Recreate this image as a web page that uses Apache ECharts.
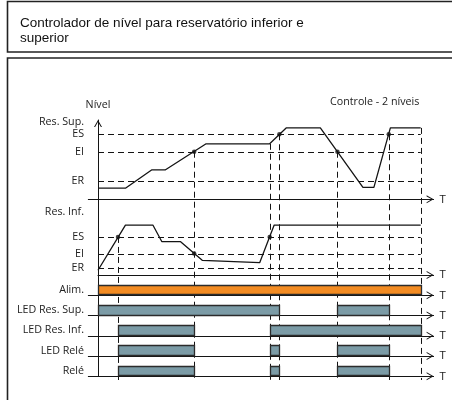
<!DOCTYPE html>
<html>
<head>
<meta charset="utf-8">
<script src="https://cdn.jsdelivr.net/npm/echarts@6/dist/echarts.min.js"></script>
<style>
html, body { margin: 0; padding: 0; background: #fff; }
#chart { width: 452px; height: 400px; }
</style>
</head>
<body>
<div id="chart"></div>
<script>
// ---- Data -------------------------------------------------------------
// Level thresholds, % of reservoir height: ER, EI, ES
const levelNames = ['ER', 'EI', 'ES'];
const upperThresholds = [23, 60, 82];
const lowerThresholds = [9, 27, 48];
const upperTopLabel = ['Res. Sup.', 97];
const lowerTopLabel = ['Res. Inf.', 80];

// Reservoir levels over time: [t, level]
const upperLevel = [[0, 14], [8.5, 14], [16.6, 37], [20.8, 37], [33.5, 70], [53.2, 70],
  [58.3, 90], [68.9, 90], [82.1, 15], [85.5, 15], [90.6, 90], [100, 90]];
const lowerLevel = [[0, 6], [8.5, 63], [17, 63], [19.8, 42], [25.6, 42], [32.3, 18.5],
  [50.1, 15.5], [54.6, 63], [100, 63]];

// Threshold crossings (dots)
const upperCrossings = [[29.8, 60], [56.2, 82], [74.2, 60], [90.1, 82]];
const lowerCrossings = [[6.2, 48], [29.8, 27], [53.2, 48]];

// Switching instants: time, chart the guide starts in (0 upper, 1 lower), starting level
const switchTimes = [6.2, 29.8, 53.2, 56.2, 74.2, 90.1, 100];
const switchFrom = [1, 0, 0, 0, 0, 0, 0];
const switchLevel = [48, 60, 70, 82, 60, 82, 90];

// Digital signals as [on, off] intervals
const rowNames = ['Alim.', 'LED Res. Sup.', 'LED Res. Inf.', 'LED Relé', 'Relé'];
const alim = [[0, 100]];
const ledResSup = [[0, 56.2], [74.2, 90.1]];
const ledResInf = [[6.2, 29.8], [53.2, 100]];
const ledRele = [[6.2, 29.8], [53.2, 56.2], [74.2, 90.1]];
const rele = [[6.2, 29.8], [53.2, 56.2], [74.2, 90.1]];
const rowData = [alim, ledResSup, ledResInf, ledRele, rele];
const rowColors = ['#f28b22', '#7b9ba6', '#7b9ba6', '#7b9ba6', '#7b9ba6'];
const tEnd = 100;

// ---- Layout -----------------------------------------------------------
const PX_T = 3.227;              // px per time unit
const X0 = 98;                   // pixel of t = 0
const X_MIN = -3, X_MAX = 104;
const LEFT_EXT = X0 + X_MIN * PX_T;
const RIGHT = 452 - (X0 + X_MAX * PX_T);
const UP_TOP = 120, UP_H = 79.3;
const PX_LEVEL = UP_H / 100;
const LO_TOP = UP_TOP + UP_H, LO_H = 75.7;
const LO_MAX = LO_H / PX_LEVEL;
const ROW_TOP = LO_TOP + LO_H, ROW_H = 20.25, BAR_PX = 10.6;
const ROW_MAX = ROW_H / BAR_PX;
const GUIDE_BOTTOM = 380;
const GUIDE_MIN = 100 - (GUIDE_BOTTOM - UP_TOP) / PX_LEVEL;
const LABEL_GAP = 14;            // label right edge to the vertical axis

const INK = '#141414';
const FONT = '"Open Sans", sans-serif';
const labelStyle = { fontFamily: FONT, fontSize: 10.7, color: '#222' };
const arrowUp = 'path://M0,7 L4,0 L8,7 L6.9,7 L4,1.9 L1.1,7 Z';
const DASH = [6, 4];

function xAxisFor(gridIndex, min, showLine) {
  return {
    type: 'value', gridIndex: gridIndex, min: min, max: X_MAX,
    axisLine: showLine ? {
      onZero: true,
      lineStyle: { color: INK, width: 1 },
      symbol: ['none', arrowUp], symbolSize: [8, 7], symbolOffset: [0, -3.5]
    } : { show: false },
    axisTick: { show: false }, axisLabel: { show: false }, splitLine: { show: false },
    name: showLine ? 'T' : '', nameLocation: 'end', nameGap: 6,
    nameTextStyle: Object.assign({}, labelStyle, { fontSize: 11.5 })
  };
}

// Labels sit relative to the grid edge, so grids that start left of t = 0 need a smaller margin
function yAxisFor(gridIndex, max, values, names, gridLeft, extra) {
  return Object.assign({
    type: 'value', gridIndex: gridIndex, min: 0, max: max,
    axisLine: { show: true, onZero: true, lineStyle: { color: INK, width: 1 } },
    axisTick: { show: false }, splitLine: { show: false },
    axisLabel: Object.assign({
      show: true, margin: LABEL_GAP - (X0 - gridLeft), customValues: values,
      formatter: function (v) { return names[values.indexOf(v)] || ''; }
    }, labelStyle)
  }, extra || {});
}

// Grids: upper level, lower level, five signal rows, guide overlay
const grids = [
  { left: LEFT_EXT, right: RIGHT, top: UP_TOP, height: UP_H },
  { left: X0, right: RIGHT, top: LO_TOP, height: LO_H }
];
rowNames.forEach(function (n, i) {
  grids.push({ left: LEFT_EXT, right: RIGHT, top: ROW_TOP + i * ROW_H, height: ROW_H });
});
const OVERLAY = grids.length;
grids.push({ left: LEFT_EXT, right: RIGHT, top: UP_TOP, height: GUIDE_BOTTOM - UP_TOP });

const xAxes = [xAxisFor(0, X_MIN, true), xAxisFor(1, 0, true)];
const yAxes = [
  yAxisFor(0, 100, upperThresholds.concat([upperTopLabel[1]]), levelNames.concat([upperTopLabel[0]]), LEFT_EXT, {
    name: 'Nível', nameLocation: 'end', nameGap: 10,
    nameTextStyle: Object.assign({}, labelStyle, { align: 'center' }),
    axisLine: {
      show: true, onZero: true, lineStyle: { color: INK, width: 1 },
      symbol: ['none', arrowUp], symbolSize: [8, 7], symbolOffset: [0, -3.5]
    }
  }),
  yAxisFor(1, LO_MAX, lowerThresholds.concat([lowerTopLabel[1]]), levelNames.concat([lowerTopLabel[0]]), X0)
];
rowNames.forEach(function (n, i) {
  xAxes.push(xAxisFor(2 + i, X_MIN, true));
  yAxes.push(yAxisFor(2 + i, ROW_MAX, [0.5], [n], LEFT_EXT));
});
xAxes.push(xAxisFor(OVERLAY, X_MIN, false));
yAxes.push({ type: 'value', gridIndex: OVERLAY, min: GUIDE_MIN, max: 100, show: false });

// Dashed guide segment [t1, v1, t2, v2]
function renderGuide(params, api) {
  const p1 = api.coord([api.value(0), api.value(1)]);
  const p2 = api.coord([api.value(2), api.value(3)]);
  const vertical = Math.abs(p1[0] - p2[0]) < 0.5;
  const x1 = vertical ? Math.round(p1[0]) + 0.5 : p1[0];
  const x2 = vertical ? x1 : p2[0];
  const y1 = vertical ? p1[1] : Math.round(p1[1]) + 0.5;
  const y2 = vertical ? p2[1] : y1;
  return {
    type: 'line',
    shape: { x1: x1, y1: y1, x2: x2, y2: y2 },
    style: { stroke: INK, lineWidth: 1, lineDash: DASH, lineDashOffset: 0 }
  };
}

function thresholdGuides(levels) {
  return levels.map(function (l) { return [0, l, tEnd, l]; });
}

const verticalGuides = switchTimes.map(function (t, i) {
  const start = switchFrom[i] === 0 ? switchLevel[i] : switchLevel[i] - LO_MAX;
  return [t, start, t, GUIDE_MIN];
});

function renderBar(params, api) {
  const a = api.coord([api.value(0), 1]);
  const b = api.coord([api.value(1), 0]);
  const x = Math.round(a[0]) + 0.5, x2 = Math.round(b[0]) + 0.5;
  const y = Math.round(a[1]) + 0.5, y2 = Math.round(b[1]) - 0.5;
  return {
    type: 'rect',
    shape: { x: x, y: y, width: x2 - x, height: y2 - y },
    style: { fill: rowColors[params.seriesIndex - 7], stroke: '#2b2b2b', lineWidth: 1.3 }
  };
}

const series = [
  { type: 'custom', xAxisIndex: 0, yAxisIndex: 0, renderItem: renderGuide, data: thresholdGuides(upperThresholds), silent: true, z: 1 },
  { type: 'custom', xAxisIndex: 1, yAxisIndex: 1, renderItem: renderGuide, data: thresholdGuides(lowerThresholds), silent: true, z: 1 },
  { type: 'custom', xAxisIndex: OVERLAY, yAxisIndex: OVERLAY, renderItem: renderGuide, data: verticalGuides, silent: true, z: 1 },
  { type: 'line', xAxisIndex: 0, yAxisIndex: 0, data: upperLevel, symbol: 'none', lineStyle: { color: INK, width: 1.3 }, z: 5 },
  { type: 'line', xAxisIndex: 1, yAxisIndex: 1, data: lowerLevel, symbol: 'none', lineStyle: { color: INK, width: 1.3 }, z: 5 },
  { type: 'scatter', xAxisIndex: 0, yAxisIndex: 0, data: upperCrossings, symbolSize: 4.5, itemStyle: { color: INK }, z: 6 },
  { type: 'scatter', xAxisIndex: 1, yAxisIndex: 1, data: lowerCrossings, symbolSize: 4.5, itemStyle: { color: INK }, z: 6 }
];
rowData.forEach(function (d, i) {
  series.push({
    type: 'custom', xAxisIndex: 2 + i, yAxisIndex: 2 + i,
    renderItem: renderBar, data: d, encode: { x: [0, 1] }, silent: true, z: 4
  });
});

const chart = echarts.init(document.getElementById('chart'), null, { renderer: 'canvas' });
chart.setOption({
  animation: false,
  backgroundColor: '#fff',
  title: [
    {
      text: 'Controlador de nível para reservatório inferior e\nsuperior',
      left: 20, top: 15.5, padding: 0,
      textStyle: { fontFamily: '"Liberation Sans", Arial, sans-serif', fontSize: 13.5, fontWeight: 'normal', color: '#111', lineHeight: 15.5 }
    },
    {
      text: 'Controle - 2 níveis', left: 330, top: 96, padding: 0,
      textStyle: Object.assign({}, labelStyle, { fontWeight: 'normal' })
    }
  ],
  graphic: [
    { type: 'rect', shape: { x: 7.5, y: 1.5, width: 460, height: 50.5 }, style: { fill: 'none', stroke: '#222', lineWidth: 1.6 }, silent: true },
    { type: 'rect', shape: { x: 7.5, y: 58, width: 460, height: 360 }, style: { fill: 'none', stroke: '#222', lineWidth: 1.6 }, silent: true }
  ],
  grid: grids,
  xAxis: xAxes,
  yAxis: yAxes,
  series: series
});
</script>
</body>
</html>
